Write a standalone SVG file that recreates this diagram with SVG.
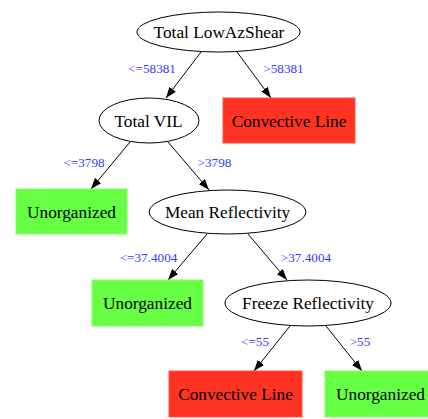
<svg xmlns="http://www.w3.org/2000/svg" width="428" height="419" viewBox="0 0 428 419">
<style>
.n{font-family:"Liberation Serif","Times New Roman",serif;font-size:17.3px;fill:#000;text-anchor:middle}
.l{font-family:"Liberation Serif","Times New Roman",serif;font-size:13.2px;fill:#3838ff;text-anchor:middle}
.el{fill:#fff;stroke:#000;stroke-width:1}
.red{fill:#ff3322;stroke:#ff5544;stroke-width:1}
.grn{fill:#66ff44;stroke:#88ff66;stroke-width:1}
.e{stroke:#000;stroke-width:1;fill:none;marker-end:url(#ah)}
</style>
<defs>
<marker id="ah" markerUnits="userSpaceOnUse" markerWidth="11" markerHeight="8" refX="11" refY="4" orient="auto">
<path d="M0,0 L11,4 L0,8 z" fill="#000"/>
</marker>
</defs>
<rect width="428" height="419" fill="#fff"/>
<g id="edges">
<line class="e" x1="201" y1="52" x2="166" y2="98"/>
<line class="e" x1="237" y1="52" x2="271" y2="98"/>
<line class="e" x1="130" y1="142" x2="91" y2="189"/>
<line class="e" x1="168" y1="142" x2="209" y2="190"/>
<line class="e" x1="207" y1="234" x2="168" y2="280"/>
<line class="e" x1="248" y1="234" x2="287" y2="280"/>
<line class="e" x1="290" y1="326" x2="254" y2="371"/>
<line class="e" x1="326" y1="326" x2="362" y2="371"/>
<text class="l" x="152" y="72.5">&lt;=58381</text>
<text class="l" x="283.5" y="72.5">&gt;58381</text>
<text class="l" x="84" y="166.5">&lt;=3798</text>
<text class="l" x="214.5" y="166.5">&gt;3798</text>
<text class="l" x="148.5" y="261.5">&lt;=37.4004</text>
<text class="l" x="306" y="261.5">&gt;37.4004</text>
<text class="l" x="255" y="345.5">&lt;=55</text>
<text class="l" x="360" y="345.5">&gt;55</text>
</g>
<g id="root">
<ellipse class="el" cx="218.5" cy="32" rx="81.5" ry="20"/>
<text class="n" x="219" y="38">Total LowAzShear</text>
</g>
<g id="vil">
<ellipse class="el" cx="149" cy="120.5" rx="50" ry="22.5"/>
<text class="n" x="148.5" y="126.5">Total VIL</text>
</g>
<g id="conv1">
<rect class="red" x="223" y="98" width="132" height="45"/>
<text class="n" x="289" y="126.5">Convective Line</text>
</g>
<g id="unorg1">
<rect class="grn" x="16" y="189" width="111" height="45"/>
<text class="n" x="71.5" y="217.5">Unorganized</text>
</g>
<g id="meanrefl">
<ellipse class="el" cx="227.5" cy="212" rx="78.5" ry="22"/>
<text class="n" x="227.5" y="218">Mean Reflectivity</text>
</g>
<g id="unorg2">
<rect class="grn" x="92" y="280" width="111" height="46"/>
<text class="n" x="147.5" y="309">Unorganized</text>
</g>
<g id="freeze">
<ellipse class="el" cx="308" cy="303" rx="83" ry="23"/>
<text class="n" x="308" y="309">Freeze Reflectivity</text>
</g>
<g id="conv2">
<rect class="red" x="169" y="371" width="133" height="46"/>
<text class="n" x="235.5" y="400">Convective Line</text>
</g>
<g id="unorg3">
<rect class="grn" x="325" y="371" width="111" height="46"/>
<text class="n" x="380.5" y="400">Unorganized</text>
</g>
</svg>
